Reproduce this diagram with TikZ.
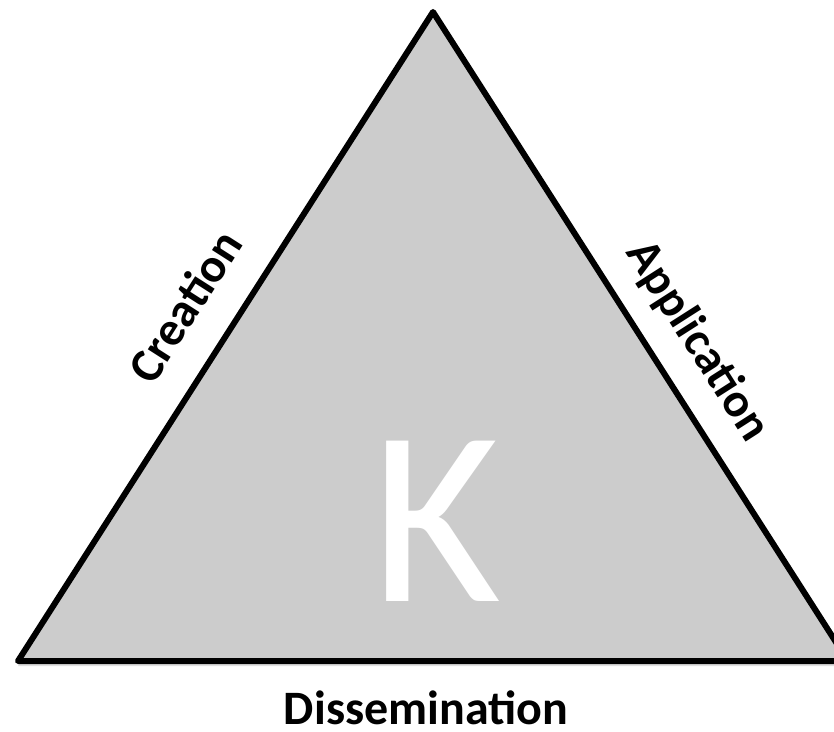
\documentclass[tikz,border=0pt]{standalone}
\usepackage{fontspec}
\setmainfont{Carlito}
\usetikzlibrary{shadows}

\begin{document}
\begin{tikzpicture}[
  x=1pt, y=1pt,
  side/.style={font=\fontsize{48}{56}\selectfont\bfseries, inner sep=0pt, text depth=0pt},
  tri/.style={draw=black, line width=6pt, line join=round, fill=black!20,
    drop shadow={shadow xshift=0pt, shadow yshift=-5pt, opacity=0.25}}
]
\useasboundingbox (0,0) rectangle (834,731);
\clip (0,0) rectangle (834,731);

\coordinate (top) at (433,719);
\coordinate (left) at (18,70);
\coordinate (right) at (848,70);

\filldraw[tri] (left) -- (top) -- (right) -- cycle;

\path (left) -- (top) node (creation) [side, pos=0.505, sloped, above=34pt] {Creation};
\path (top) -- (right) node (application) [side, pos=0.545, sloped, above=32pt] {Application};
\node (dissemination) [side, anchor=base] at (426,7) {Dissemination};

\node (k) [text=white, font=\fontsize{250}{250}\selectfont] at (436,210) {K};
\end{tikzpicture}
\end{document}
